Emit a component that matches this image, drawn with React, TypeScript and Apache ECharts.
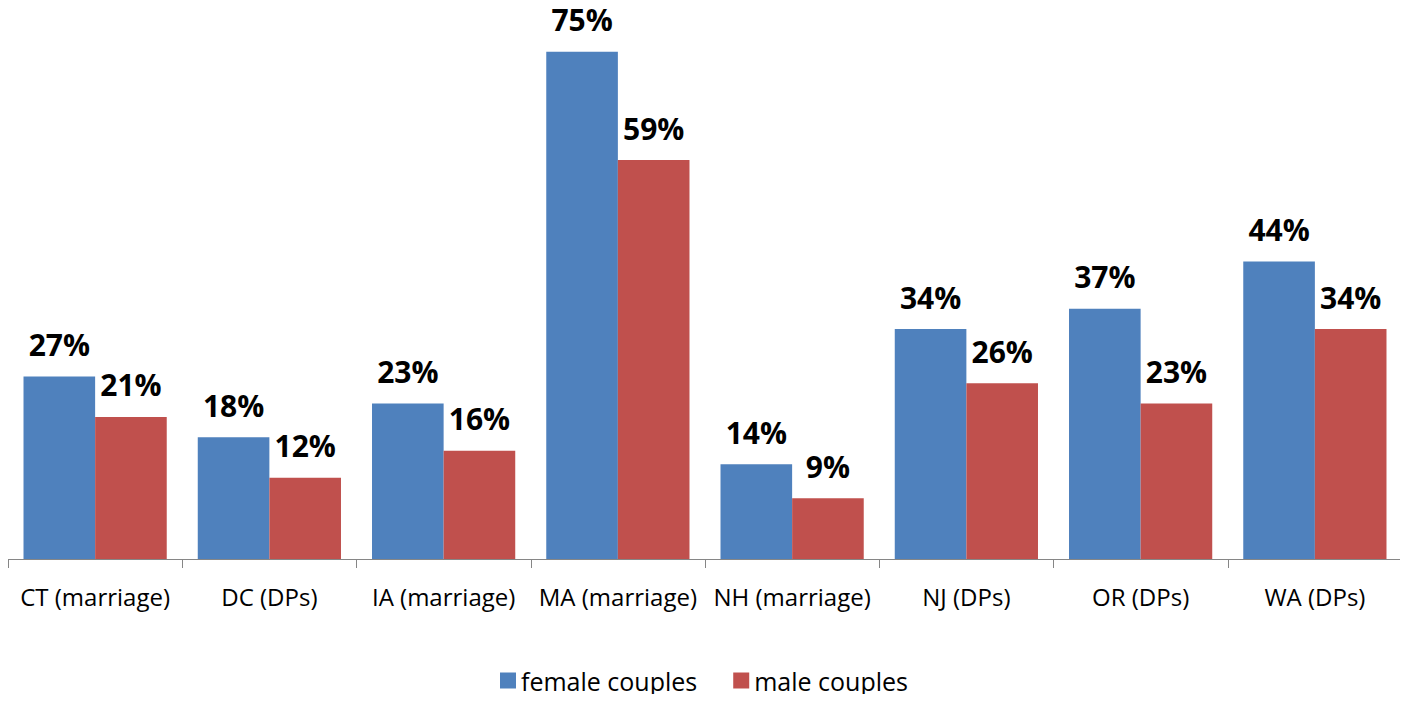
import React, { useEffect, useRef } from "react";
import * as echarts from "echarts";

const categories = [
  "CT (marriage)",
  "DC (DPs)",
  "IA (marriage)",
  "MA (marriage)",
  "NH (marriage)",
  "NJ (DPs)",
  "OR (DPs)",
  "WA (DPs)",
];
const femaleCouples = [27, 18, 23, 75, 14, 34, 37, 44];
const maleCouples = [21, 12, 16, 59, 9, 26, 23, 34];

const FONT = "'Open Sans', 'Noto Sans', sans-serif";

export default function App() {
  const ref = useRef<HTMLDivElement>(null);
  useEffect(() => {
    if (!ref.current) return;
    const chart = echarts.init(ref.current, undefined, { renderer: "svg" });
    const label = {
      show: true,
      position: "top",
      distance: 17,
      formatter: "{c}%",
      fontFamily: FONT,
      fontSize: 30,
      lineHeight: 30,
      fontWeight: "bold",
      color: "#000",
    };
    chart.setOption({
      animation: false,
      textStyle: { fontFamily: FONT },
      grid: { left: 8, right: 6, top: 18, bottom: 143, containLabel: false },
      legend: {
        bottom: 4,
        left: "center",
        itemWidth: 16,
        itemHeight: 16,
        itemGap: 36,
        icon: "rect",
        textStyle: { fontFamily: FONT, fontSize: 25, color: "#000" },
        data: ["female couples", "male couples"],
      },
      xAxis: {
        type: "category",
        data: categories,
        axisLine: { lineStyle: { color: "#868686", width: 1 } },
        axisTick: { show: true, length: 9, lineStyle: { color: "#868686" } },
        axisLabel: {
          interval: 0,
          margin: 25,
          fontFamily: FONT,
          fontSize: 24,
          color: "#000",
        },
      },
      yAxis: {
        type: "value",
        min: 0,
        max: 80,
        show: false,
        splitLine: { show: false },
      },
      series: [
        {
          name: "female couples",
          type: "bar",
          data: femaleCouples,
          barGap: "0%",
          barCategoryGap: "17.8%",
          itemStyle: { color: "#4F81BD" },
          label,
        },
        {
          name: "male couples",
          type: "bar",
          data: maleCouples,
          barGap: "0%",
          barCategoryGap: "17.8%",
          itemStyle: { color: "#C0504D" },
          label,
        },
      ],
    });
    return () => chart.dispose();
  }, []);
  return <div ref={ref} style={{ width: 1408, height: 702, margin: -8 }} />;
}
